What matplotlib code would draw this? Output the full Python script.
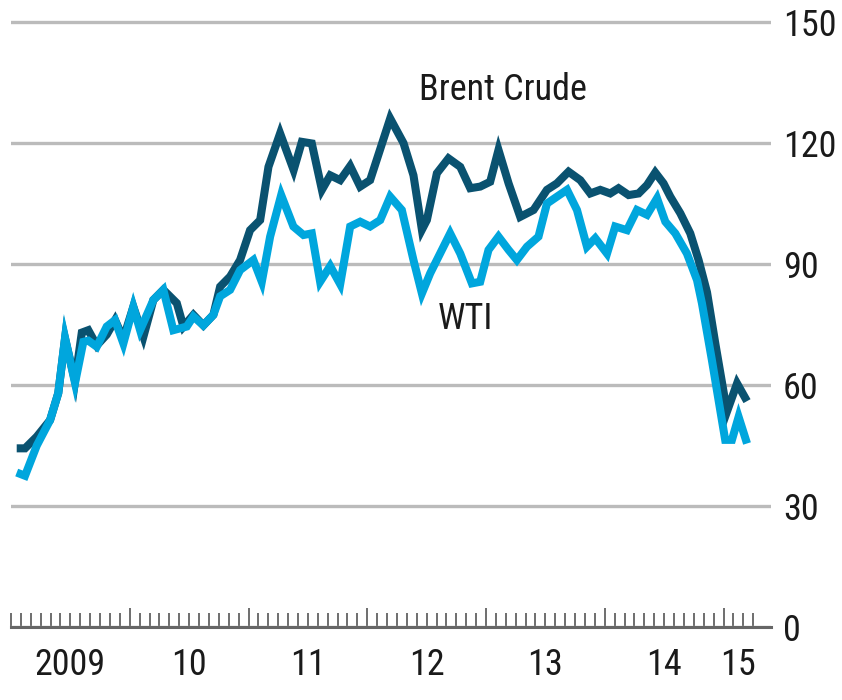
import matplotlib.pyplot as plt
from matplotlib import font_manager
import numpy as np

# Oil prices, $ per barrel (x in decimal years)
brent_t = [2009.048, 2009.118, 2009.217, 2009.329, 2009.398, 2009.455, 2009.539, 2009.596, 2009.651, 2009.722,
           2009.806, 2009.876, 2009.946, 2010.030, 2010.115, 2010.199, 2010.283, 2010.396, 2010.452, 2010.536,
           2010.620, 2010.704, 2010.761, 2010.845, 2010.929, 2011.013, 2011.098, 2011.168, 2011.266, 2011.380,
           2011.449, 2011.533, 2011.618, 2011.688, 2011.772, 2011.856, 2011.940, 2012.024, 2012.193, 2012.305,
           2012.389, 2012.460, 2012.502, 2012.586, 2012.684, 2012.783, 2012.867, 2012.951, 2013.035, 2013.105,
           2013.190, 2013.288, 2013.400, 2013.513, 2013.597, 2013.695, 2013.794, 2013.878, 2013.962, 2014.046,
           2014.116, 2014.201, 2014.285, 2014.356, 2014.425, 2014.495, 2014.552, 2014.636, 2014.720, 2014.790,
           2014.861, 2014.931, 2015.029, 2015.114, 2015.198]
brent = [44.3, 44.3, 47.2, 51.3, 58.0, 71.5, 61.0, 73.0, 73.6, 69.8,
         72.5, 76.1, 71.5, 79.4, 72.0, 81.1, 83.6, 80.3, 74.5, 77.4,
         74.8, 77.4, 84.4, 86.9, 91.0, 98.4, 100.9, 114.1, 122.4, 113.3,
         120.3, 119.9, 108.4, 112.0, 110.8, 114.3, 109.2, 110.8, 126.1, 120.0,
         112.0, 98.5, 100.9, 112.5, 116.2, 114.1, 108.8, 109.2, 110.4, 118.3,
         110.0, 101.7, 103.4, 108.4, 110.0, 112.9, 110.8, 107.5, 108.4, 107.5,
         108.8, 107.1, 107.5, 109.6, 112.7, 110.0, 106.7, 102.6, 97.6, 91.0,
         83.0, 70.3, 53.4, 60.4, 56.0]

wti_t = [2009.048, 2009.118, 2009.217, 2009.329, 2009.398, 2009.455, 2009.539, 2009.609, 2009.651, 2009.722,
         2009.806, 2009.876, 2009.946, 2010.030, 2010.087, 2010.199, 2010.283, 2010.367, 2010.480, 2010.536,
         2010.620, 2010.704, 2010.761, 2010.845, 2010.929, 2011.041, 2011.112, 2011.182, 2011.275, 2011.378,
         2011.463, 2011.533, 2011.603, 2011.688, 2011.772, 2011.856, 2011.940, 2012.024, 2012.109, 2012.193,
         2012.291, 2012.389, 2012.460, 2012.530, 2012.698, 2012.783, 2012.881, 2012.951, 2013.021, 2013.105,
         2013.190, 2013.260, 2013.345, 2013.442, 2013.513, 2013.597, 2013.682, 2013.766, 2013.850, 2013.920,
         2014.019, 2014.088, 2014.187, 2014.271, 2014.356, 2014.440, 2014.510, 2014.594, 2014.692, 2014.777,
         2014.818, 2014.902, 2015.014, 2015.071, 2015.127, 2015.198]
wti = [38.3, 37.5, 45.0, 51.3, 58.0, 71.7, 60.5, 70.7, 71.0, 69.5,
       74.5, 76.1, 70.3, 79.4, 73.6, 81.1, 83.6, 73.6, 74.5, 77.0,
       74.8, 77.4, 82.0, 83.6, 88.5, 91.0, 85.6, 96.8, 107.1, 99.3,
       97.2, 97.6, 85.6, 89.5, 85.0, 99.3, 100.5, 99.3, 100.9, 106.7,
       103.4, 91.0, 82.7, 87.7, 97.6, 92.6, 85.2, 85.6, 93.5, 96.8,
       93.5, 91.0, 94.3, 96.8, 105.0, 106.7, 108.4, 103.4, 94.3, 96.4,
       92.6, 99.3, 98.4, 103.4, 102.2, 106.3, 100.5, 97.6, 92.6, 86.0,
       80.3, 66.2, 46.4, 46.4, 52.1, 45.5]

year_labels = ["2009", "10", "11", "12", "13", "14", "15"]
year_label_pos = [2009.5, 2010.5, 2011.5, 2012.5, 2013.5, 2014.5, 2015.12]
y_ticks = [0, 30, 60, 90, 120, 150]

BRENT = "#0a5270"
WTI = "#00a6dd"
TEXT = "#1a1a1a"

# the original uses a narrow face; take a condensed one if there is one
fonts = font_manager.fontManager.ttflist
names = {f.name for f in fonts}
stretch = 'normal'
fsize = 22
if 'Liberation Sans Narrow' in names:
    family, fsize = 'Liberation Sans Narrow', 26.5
elif 'Roboto Condensed' in names:
    family, fsize = 'Roboto Condensed', 26
elif any(f.name == 'DejaVu Sans' and f.stretch == 'condensed' for f in fonts):
    family, stretch, fsize = 'DejaVu Sans', 'condensed', 24
else:
    family = 'DejaVu Sans'
plt.rcParams['font.family'] = [family, 'DejaVu Sans']
plt.rcParams['font.stretch'] = stretch

fig = plt.figure(figsize=(8.42, 7), dpi=100)
ax = fig.add_axes([0.0128, 0.1043, 0.9029, 0.8757])

ax.plot(brent_t, brent, color=BRENT, lw=5.8, solid_joinstyle='miter', solid_capstyle='butt', zorder=3)
ax.plot(wti_t, wti, color=WTI, lw=5.8, solid_joinstyle='miter', solid_capstyle='butt', zorder=4)

ax.text(2013.145, 133.2, "Brent Crude", fontsize=fsize, color=TEXT, ha='center', va='center')
ax.text(2012.825, 76.4, "WTI", fontsize=fsize, color=TEXT, ha='center', va='center')

ax.set_xlim(2008.998, 2015.4)
ax.set_ylim(0, 152)

# y axis on the right, gridlines only
ax.yaxis.tick_right()
ax.set_yticks(y_ticks)
ax.tick_params(axis='y', length=0, pad=8.5, labelsize=fsize, labelcolor=TEXT)
ax.grid(axis='y', color='#bbbbbb', lw=2.4)
ax.set_axisbelow(True)

# monthly ticks along the bottom
ax.set_xticks(np.arange(2010, 2016))
ax.set_xticks([2009 + m / 12 for m in range(0, 76) if m % 12 != 0 or m == 0], minor=True)
ax.tick_params(axis='x', which='major', direction='in', length=13.5, width=1.2, color='#555555', labelbottom=False)
ax.tick_params(axis='x', which='minor', direction='in', length=10, width=1.2, color='#555555')

for lab, pos in zip(year_labels, year_label_pos):
    ax.annotate(lab, xy=(pos, 0), xycoords=('data', 'axes fraction'), xytext=(0, -27.5),
                textcoords='offset points', ha='center', va='center', fontsize=fsize, color=TEXT)

for side in ['top', 'left', 'right']:
    ax.spines[side].set_visible(False)
ax.spines['bottom'].set_color('#666666')
ax.spines['bottom'].set_linewidth(2.2)

fig.savefig("out.png", dpi=100)
